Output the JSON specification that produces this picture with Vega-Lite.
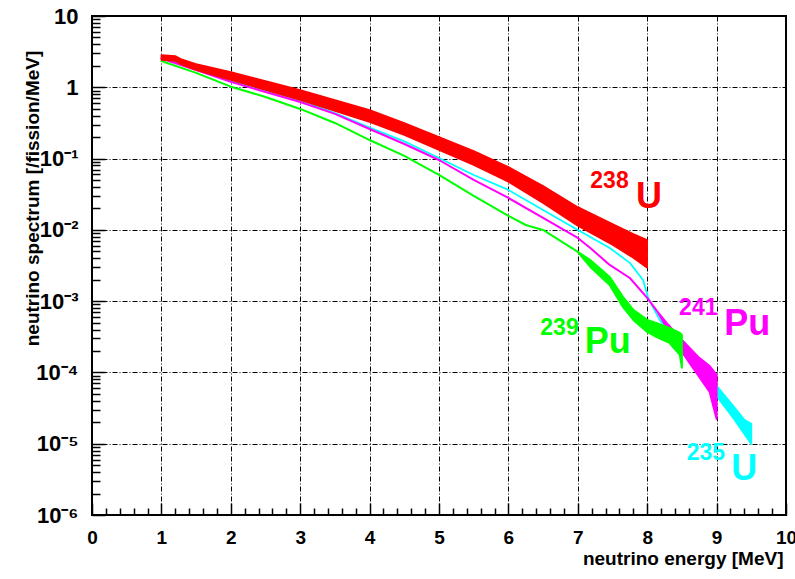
{
  "$schema": "https://vega.github.io/schema/vega-lite/v6.json",
  "width": 694,
  "height": 499,
  "autosize": {"type": "none"},
  "padding": {"left": 92, "top": 16, "right": 9, "bottom": 64},
  "background": "white",
  "datasets": {
    "curves": [
      {"iso": "U235", "E": 1.0, "hi": 2.62, "lo": 2.62},
      {"iso": "U235", "E": 1.5, "hi": 1.84, "lo": 1.84},
      {"iso": "U235", "E": 2.0, "hi": 1.225, "lo": 1.225},
      {"iso": "U235", "E": 2.5, "hi": 0.902, "lo": 0.902},
      {"iso": "U235", "E": 3.0, "hi": 0.653, "lo": 0.653},
      {"iso": "U235", "E": 3.5, "hi": 0.436, "lo": 0.436},
      {"iso": "U235", "E": 4.0, "hi": 0.273, "lo": 0.273},
      {"iso": "U235", "E": 4.5, "hi": 0.174, "lo": 0.174},
      {"iso": "U235", "E": 5.0, "hi": 0.102, "lo": 0.102},
      {"iso": "U235", "E": 5.5, "hi": 0.0589, "lo": 0.0589},
      {"iso": "U235", "E": 6.0, "hi": 0.0363, "lo": 0.0363},
      {"iso": "U235", "E": 6.5, "hi": 0.019, "lo": 0.019},
      {"iso": "U235", "E": 7.0, "hi": 0.00997, "lo": 0.00997},
      {"iso": "U235", "E": 7.18, "hi": 0.00794, "lo": 0.00794},
      {"iso": "U235", "E": 7.46, "hi": 0.00557, "lo": 0.00557},
      {"iso": "U235", "E": 7.75, "hi": 0.00344, "lo": 0.00344},
      {"iso": "U235", "E": 7.94, "hi": 0.00198, "lo": 0.00198},
      {"iso": "U235", "E": 8.01, "hi": 0.00115, "lo": 0.00115},
      {"iso": "U235", "E": 8.08, "hi": 0.00083, "lo": 0.00083},
      {"iso": "U235", "E": 8.18, "hi": 0.000545, "lo": 0.000545},
      {"iso": "U235", "E": 8.5, "hi": 0.000286, "lo": 0.000221},
      {"iso": "U235", "E": 8.75, "hi": 0.00015, "lo": 0.000108},
      {"iso": "U235", "E": 9.0, "hi": 0.0000647, "lo": 0.0000468},
      {"iso": "U235", "E": 9.25, "hi": 0.0000328, "lo": 0.0000223},
      {"iso": "U235", "E": 9.4, "hi": 0.0000216, "lo": 0.0000137},
      {"iso": "U235", "E": 9.5, "hi": 0.000019, "lo": 0.00000993},

      {"iso": "Pu241", "E": 1.0, "hi": 2.54, "lo": 2.54},
      {"iso": "Pu241", "E": 1.5, "hi": 1.75, "lo": 1.75},
      {"iso": "Pu241", "E": 2.0, "hi": 1.19, "lo": 1.19},
      {"iso": "Pu241", "E": 2.5, "hi": 0.859, "lo": 0.859},
      {"iso": "Pu241", "E": 3.0, "hi": 0.622, "lo": 0.622},
      {"iso": "Pu241", "E": 3.5, "hi": 0.423, "lo": 0.423},
      {"iso": "Pu241", "E": 4.0, "hi": 0.26, "lo": 0.26},
      {"iso": "Pu241", "E": 4.5, "hi": 0.16, "lo": 0.16},
      {"iso": "Pu241", "E": 5.0, "hi": 0.0955, "lo": 0.0955},
      {"iso": "Pu241", "E": 5.5, "hi": 0.0501, "lo": 0.0501},
      {"iso": "Pu241", "E": 6.0, "hi": 0.028, "lo": 0.028},
      {"iso": "Pu241", "E": 6.5, "hi": 0.0147, "lo": 0.0147},
      {"iso": "Pu241", "E": 7.0, "hi": 0.00769, "lo": 0.00769},
      {"iso": "Pu241", "E": 7.18, "hi": 0.00557, "lo": 0.00557},
      {"iso": "Pu241", "E": 7.46, "hi": 0.00322, "lo": 0.00322},
      {"iso": "Pu241", "E": 7.75, "hi": 0.00211, "lo": 0.00211},
      {"iso": "Pu241", "E": 8.0, "hi": 0.00111, "lo": 0.00111},
      {"iso": "Pu241", "E": 8.15, "hi": 0.000706, "lo": 0.000706},
      {"iso": "Pu241", "E": 8.3, "hi": 0.00047, "lo": 0.000394},
      {"iso": "Pu241", "E": 8.5, "hi": 0.000286, "lo": 0.000194},
      {"iso": "Pu241", "E": 8.75, "hi": 0.00016, "lo": 0.0000865},
      {"iso": "Pu241", "E": 8.9, "hi": 0.000123, "lo": 0.0000533},
      {"iso": "Pu241", "E": 9.0, "hi": 0.0000923, "lo": 0.0000223},

      {"iso": "Pu239", "E": 1.0, "hi": 2.34, "lo": 2.34},
      {"iso": "Pu239", "E": 1.5, "hi": 1.59, "lo": 1.59},
      {"iso": "Pu239", "E": 2.0, "hi": 1.02, "lo": 1.02},
      {"iso": "Pu239", "E": 2.5, "hi": 0.731, "lo": 0.731},
      {"iso": "Pu239", "E": 3.0, "hi": 0.497, "lo": 0.497},
      {"iso": "Pu239", "E": 3.5, "hi": 0.316, "lo": 0.316},
      {"iso": "Pu239", "E": 4.0, "hi": 0.182, "lo": 0.182},
      {"iso": "Pu239", "E": 4.5, "hi": 0.109, "lo": 0.109},
      {"iso": "Pu239", "E": 5.0, "hi": 0.0589, "lo": 0.0589},
      {"iso": "Pu239", "E": 5.5, "hi": 0.0299, "lo": 0.0299},
      {"iso": "Pu239", "E": 6.0, "hi": 0.0157, "lo": 0.0157},
      {"iso": "Pu239", "E": 6.25, "hi": 0.0117, "lo": 0.0117},
      {"iso": "Pu239", "E": 6.5, "hi": 0.00997, "lo": 0.00997},
      {"iso": "Pu239", "E": 7.0, "hi": 0.0049, "lo": 0.0049},
      {"iso": "Pu239", "E": 7.18, "hi": 0.00378, "lo": 0.00302},
      {"iso": "Pu239", "E": 7.46, "hi": 0.00218, "lo": 0.00169},
      {"iso": "Pu239", "E": 7.65, "hi": 0.00115, "lo": 0.00083},
      {"iso": "Pu239", "E": 7.8, "hi": 0.000753, "lo": 0.000545},
      {"iso": "Pu239", "E": 8.0, "hi": 0.000545, "lo": 0.00037},
      {"iso": "Pu239", "E": 8.13, "hi": 0.000494, "lo": 0.000315},
      {"iso": "Pu239", "E": 8.32, "hi": 0.000421, "lo": 0.000259},
      {"iso": "Pu239", "E": 8.47, "hi": 0.000358, "lo": 0.000176},
      {"iso": "Pu239", "E": 8.5, "hi": 0.000336, "lo": 0.000116},

      {"iso": "U238", "E": 1.0, "hi": 2.84, "lo": 2.42},
      {"iso": "U238", "E": 1.2, "hi": 2.75, "lo": 2.34},
      {"iso": "U238", "E": 1.3, "hi": 2.45, "lo": 2.06},
      {"iso": "U238", "E": 1.5, "hi": 2.12, "lo": 1.75},
      {"iso": "U238", "E": 2.0, "hi": 1.64, "lo": 1.265},
      {"iso": "U238", "E": 2.5, "hi": 1.225, "lo": 0.916},
      {"iso": "U238", "E": 3.0, "hi": 0.916, "lo": 0.664},
      {"iso": "U238", "E": 3.5, "hi": 0.664, "lo": 0.465},
      {"iso": "U238", "E": 4.0, "hi": 0.481, "lo": 0.326},
      {"iso": "U238", "E": 4.5, "hi": 0.316, "lo": 0.214},
      {"iso": "U238", "E": 5.0, "hi": 0.201, "lo": 0.132},
      {"iso": "U238", "E": 5.5, "hi": 0.128, "lo": 0.0813},
      {"iso": "U238", "E": 6.0, "hi": 0.0762, "lo": 0.047},
      {"iso": "U238", "E": 6.5, "hi": 0.0413, "lo": 0.0238},
      {"iso": "U238", "E": 7.0, "hi": 0.0209, "lo": 0.01135},
      {"iso": "U238", "E": 7.5, "hi": 0.0121, "lo": 0.00614},
      {"iso": "U238", "E": 7.8, "hi": 0.00875, "lo": 0.00404},
      {"iso": "U238", "E": 8.0, "hi": 0.00722, "lo": 0.00292}
    ],
    "labels": [
      {"iso": "U238", "kind": "mass", "text": "238", "E": 7.18, "hi": 0.0387},
      {"iso": "U238", "kind": "elem", "text": "U", "E": 7.84, "hi": 0.0203},
      {"iso": "Pu239", "kind": "mass", "text": "239", "E": 6.46, "hi": 0.000336},
      {"iso": "Pu239", "kind": "elem", "text": "Pu", "E": 7.1, "hi": 0.0001875},
      {"iso": "Pu241", "kind": "mass", "text": "241", "E": 8.46, "hi": 0.00064},
      {"iso": "Pu241", "kind": "elem", "text": "Pu", "E": 9.11, "hi": 0.000336},
      {"iso": "U235", "kind": "mass", "text": "235", "E": 8.57, "hi": 0.00000593},
      {"iso": "U235", "kind": "elem", "text": "U", "E": 9.21, "hi": 0.0000031}
    ]
  },
  "resolve": {"axis": {"x": "independent", "y": "independent"}},
  "layer": [
    {
      "data": {"name": "curves"},
      "transform": [{"filter": "datum.iso === 'U235'"}],
      "mark": {"type": "area", "color": "#00ffff", "stroke": "#00ffff", "strokeWidth": 1.8, "strokeJoin": "round"},
      "encoding": {
        "x": {"field": "E", "type": "quantitative", "scale": {"domain": [0, 10], "nice": false},
          "axis": {"orient": "bottom", "values": [0, 1, 2, 3, 4, 5, 6, 7, 8, 9, 10], "grid": true, "tickSize": -12, "labelPadding": 25, "labelFontSize": 19, "labelFlush": false,
            "title": "neutrino energy [MeV]", "titleX": 691, "titleY": 49, "titleAlign": "right", "titleAnchor": "end", "titleBaseline": "alphabetic"}},
        "y": {"field": "hi", "type": "quantitative", "scale": {"type": "log", "domain": [0.000001, 10], "nice": false},
          "axis": {"orient": "left", "values": [0.000001, 0.00001, 0.0001, 0.001, 0.01, 0.1, 1, 10], "grid": true, "tickSize": -13, "labelPadding": 27, "labelFontSize": 22, "labelFlush": false,
            "labelExpr": "datum.value >= 9 ? '10' : datum.value >= 0.9 ? '1' : '10' + ['⁻⁶','⁻⁵','⁻⁴','⁻³','⁻²','⁻¹'][round(log(datum.value)/LN10) + 6]",
            "title": "neutrino spectrum [/fission/MeV]", "titleX": -54, "titleY": 182, "titleAngle": -90, "titleAlign": "center", "titleBaseline": "alphabetic"}},
        "y2": {"field": "lo"}
      }
    },
    {
      "data": {"name": "curves"},
      "transform": [{"filter": "datum.iso === 'Pu241'"}],
      "mark": {"type": "area", "color": "#ff00ff", "stroke": "#ff00ff", "strokeWidth": 2, "strokeJoin": "round"},
      "encoding": {
        "x": {"field": "E", "type": "quantitative", "scale": {"domain": [0, 10], "nice": false}, "axis": null},
        "y": {"field": "hi", "type": "quantitative", "scale": {"type": "log", "domain": [0.000001, 10], "nice": false}, "axis": null},
        "y2": {"field": "lo"}
      }
    },
    {
      "data": {"name": "curves"},
      "transform": [{"filter": "datum.iso === 'Pu239'"}],
      "mark": {"type": "area", "color": "#00ff00", "stroke": "#00ff00", "strokeWidth": 2, "strokeJoin": "round"},
      "encoding": {
        "x": {"field": "E", "type": "quantitative", "scale": {"domain": [0, 10], "nice": false}, "axis": null},
        "y": {"field": "hi", "type": "quantitative", "scale": {"type": "log", "domain": [0.000001, 10], "nice": false}, "axis": null},
        "y2": {"field": "lo"}
      }
    },
    {
      "data": {"name": "curves"},
      "transform": [{"filter": "datum.iso === 'U238'"}],
      "mark": {"type": "area", "color": "#ff0000", "stroke": "#ff0000", "strokeWidth": 1.5, "strokeJoin": "round"},
      "encoding": {
        "x": {"field": "E", "type": "quantitative", "scale": {"domain": [0, 10], "nice": false}, "axis": null},
        "y": {"field": "hi", "type": "quantitative", "scale": {"type": "log", "domain": [0.000001, 10], "nice": false}, "axis": null},
        "y2": {"field": "lo"}
      }
    },
    {
      "data": {"name": "labels"},
      "transform": [{"filter": "datum.kind === 'mass'"}],
      "mark": {"type": "text", "align": "left", "baseline": "alphabetic", "font": "Liberation Sans", "fontWeight": "bold", "fontSize": 23},
      "encoding": {
        "x": {"field": "E", "type": "quantitative", "scale": {"domain": [0, 10], "nice": false},
          "axis": {"orient": "bottom", "values": [0.2, 0.4, 0.6, 0.8, 1.2, 1.4, 1.6, 1.8, 2.2, 2.4, 2.6, 2.8, 3.2, 3.4, 3.6, 3.8, 4.2, 4.4, 4.6, 4.8, 5.2, 5.4, 5.6, 5.8, 6.2, 6.4, 6.6, 6.8, 7.2, 7.4, 7.6, 7.8, 8.2, 8.4, 8.6, 8.8, 9.2, 9.4, 9.6, 9.8],
            "grid": false, "labels": false, "tickSize": -7, "title": null}},
        "y": {"field": "hi", "type": "quantitative", "scale": {"type": "log", "domain": [0.000001, 10], "nice": false},
          "axis": {"orient": "left", "values": [0.000002, 0.000003, 0.000004, 0.000005, 0.000006, 0.000007, 0.000008, 0.000009, 0.00002, 0.00003, 0.00004, 0.00005, 0.00006, 0.00007, 0.00008, 0.00009, 0.0002, 0.0003, 0.0004, 0.0005, 0.0006, 0.0007, 0.0008, 0.0009, 0.002, 0.003, 0.004, 0.005, 0.006, 0.007, 0.008, 0.009, 0.02, 0.03, 0.04, 0.05, 0.06, 0.07, 0.08, 0.09, 0.2, 0.3, 0.4, 0.5, 0.6, 0.7, 0.8, 0.9, 2, 3, 4, 5, 6, 7, 8, 9],
            "grid": false, "labels": false, "tickSize": -8, "title": null}},
        "text": {"field": "text"},
        "color": {"field": "iso", "type": "nominal", "scale": {"domain": ["U238", "Pu239", "Pu241", "U235"], "range": ["#ff0000", "#00ff00", "#ff00ff", "#00ffff"]}, "legend": null}
      }
    },
    {
      "data": {"name": "labels"},
      "transform": [{"filter": "datum.kind === 'elem'"}],
      "mark": {"type": "text", "align": "left", "baseline": "alphabetic", "font": "Liberation Sans", "fontWeight": "bold", "fontSize": 36},
      "encoding": {
        "x": {"field": "E", "type": "quantitative", "scale": {"domain": [0, 10], "nice": false}, "axis": null},
        "y": {"field": "hi", "type": "quantitative", "scale": {"type": "log", "domain": [0.000001, 10], "nice": false}, "axis": null},
        "text": {"field": "text"},
        "color": {"field": "iso", "type": "nominal", "scale": {"domain": ["U238", "Pu239", "Pu241", "U235"], "range": ["#ff0000", "#00ff00", "#ff00ff", "#00ffff"]}, "legend": null}
      }
    }
  ],
  "config": {
    "view": {"stroke": "#000000", "strokeWidth": 2},
    "axis": {
      "domain": false,
      "tickColor": "#000000",
      "tickWidth": 1.5,
      "labelFont": "Liberation Sans",
      "labelFontWeight": "bold",
      "labelColor": "#000000",
      "titleFont": "Liberation Sans",
      "titleFontWeight": "bold",
      "titleFontSize": 19,
      "titleColor": "#000000",
      "gridColor": "#000000",
      "gridOpacity": 1,
      "gridWidth": 1,
      "gridDash": [5, 2, 1, 2]
    }
  }
}
